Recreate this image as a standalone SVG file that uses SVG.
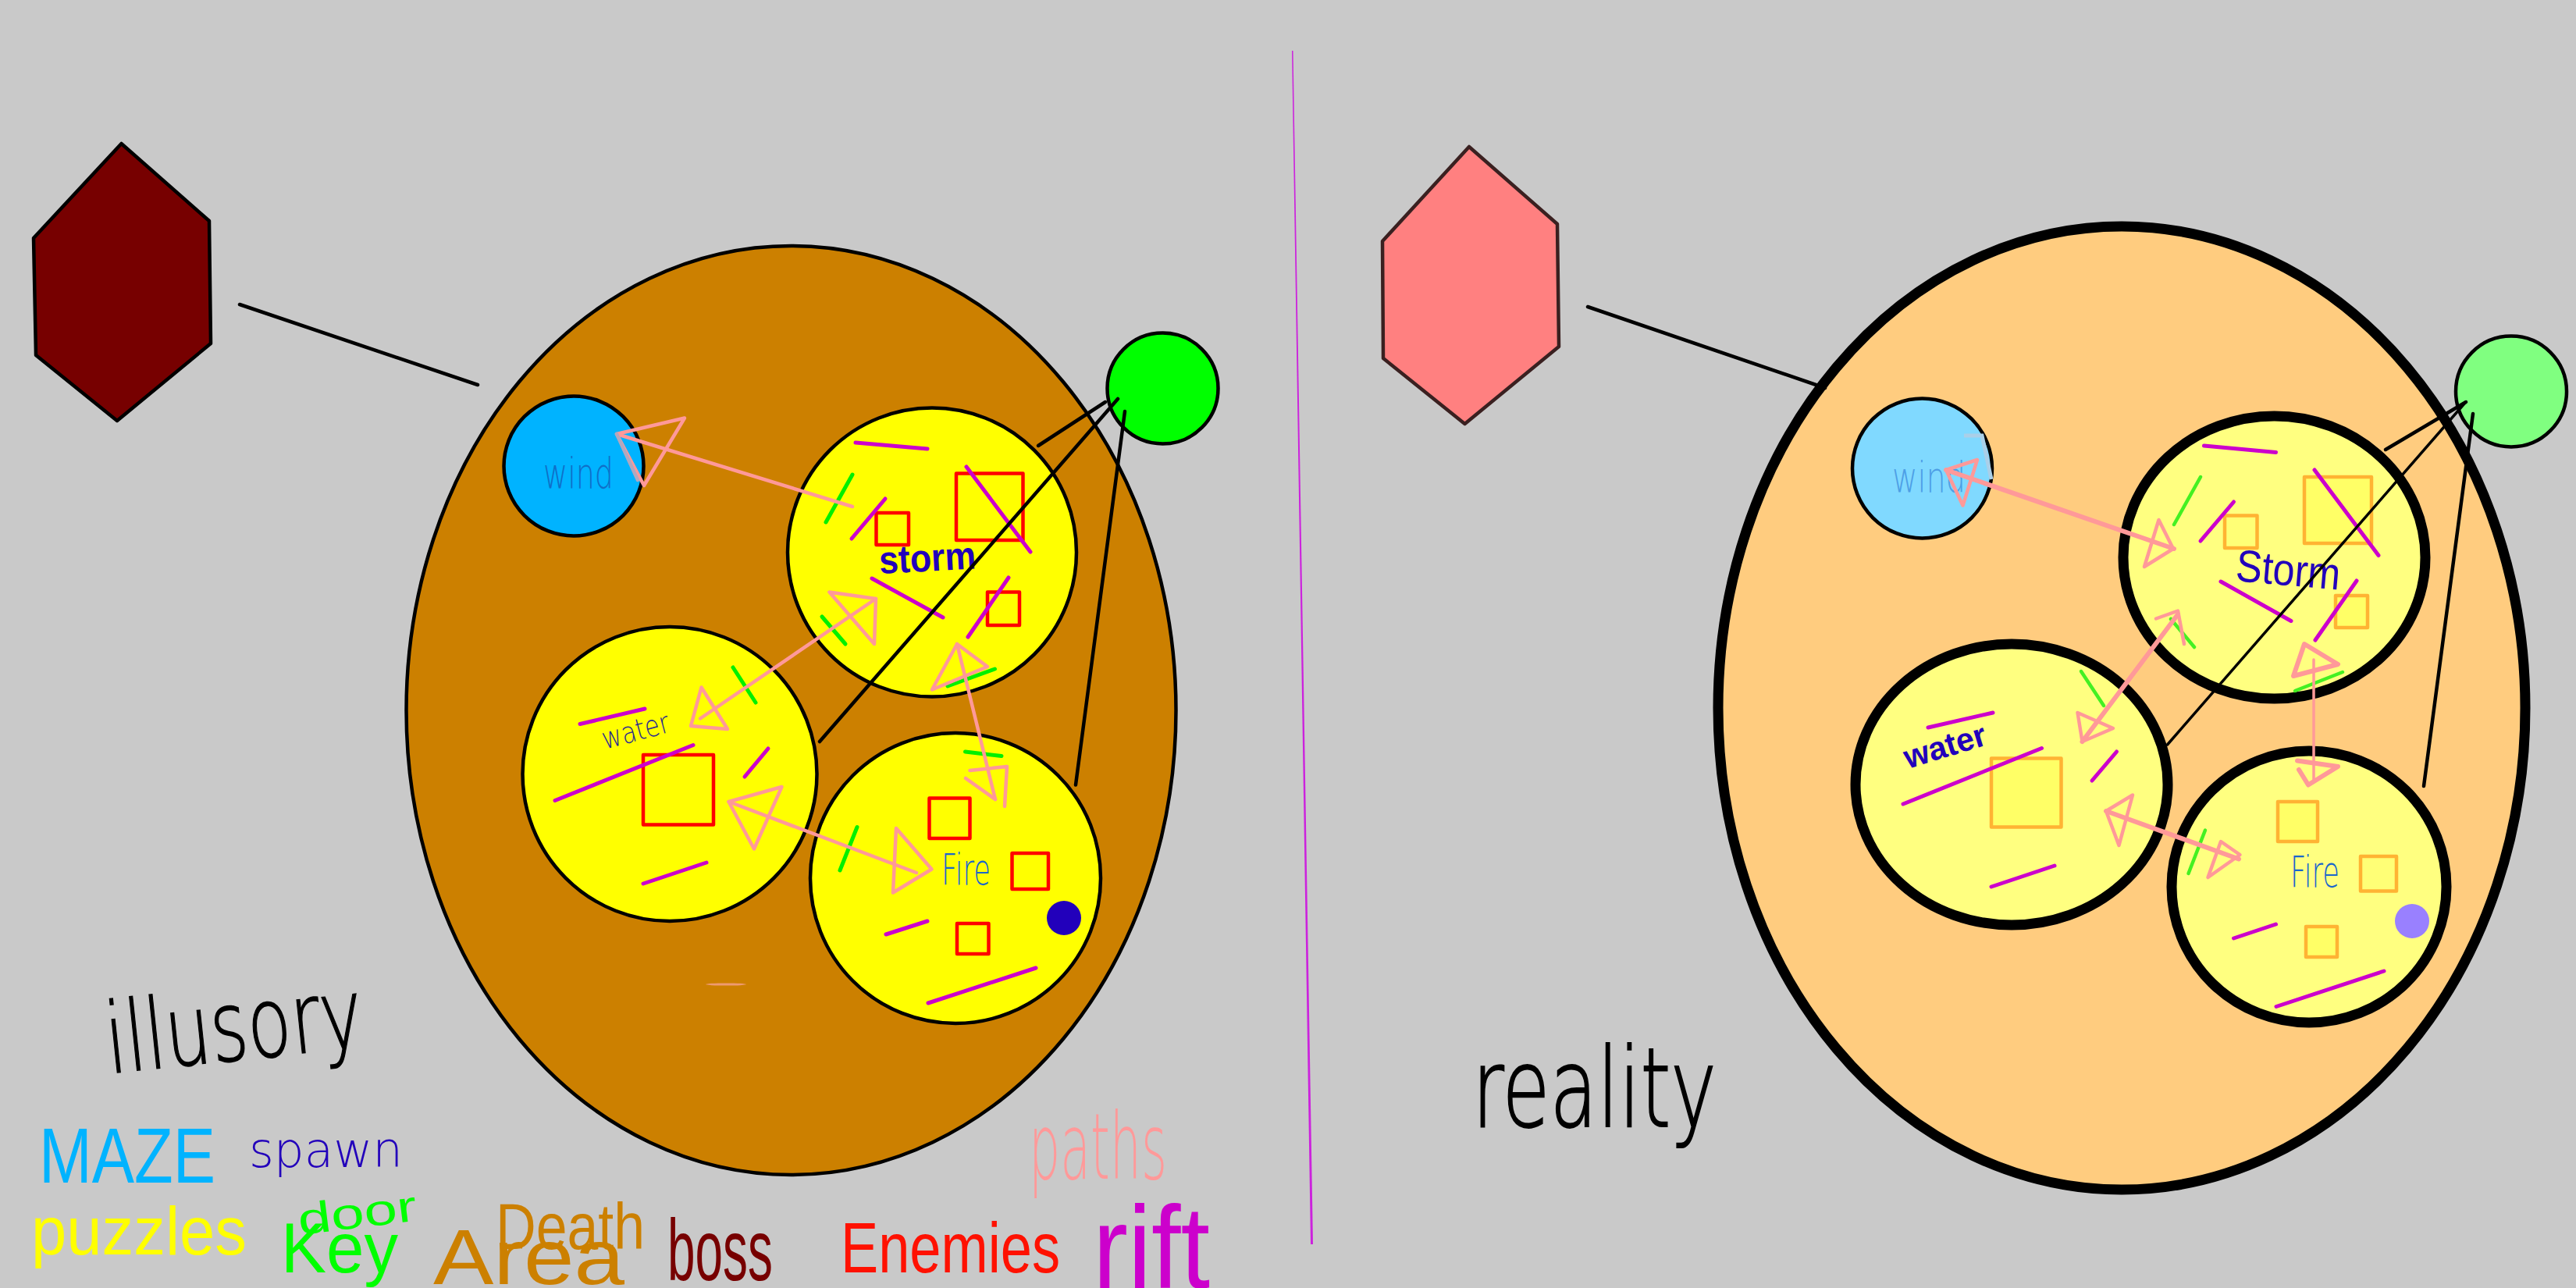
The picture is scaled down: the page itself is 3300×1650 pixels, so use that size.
<svg xmlns="http://www.w3.org/2000/svg" width="3300" height="1650" viewBox="0 0 3300 1650">
<style>
.o{stroke:#000;stroke-width:4.5}
.r{stroke:#000;stroke-width:13}
.hex{stroke-width:4.5;stroke-linejoin:round}
.blk{stroke:#000;stroke-width:4.5;stroke-linecap:round;fill:none}
.mag{stroke:#cc00cc;stroke-width:5;stroke-linecap:round;fill:none}
.grn{stroke:#00f000;stroke-width:5;stroke-linecap:round;fill:none}
.grn2{stroke:#44f022;stroke-width:4.5;stroke-linecap:round;fill:none}
.red{stroke:#ff0000;stroke-width:4.5;stroke-linejoin:round;fill:none}
.org{stroke:#ffb333;stroke-width:4.5;stroke-linejoin:round;fill:#ffff66}
.pink{stroke:#ff9999;stroke-width:4.5;stroke-linecap:round;stroke-linejoin:round;fill:none}
.pink2{stroke:#ff9999;stroke-width:6;stroke-linecap:round;stroke-linejoin:round;fill:none}
text{font-family:"DejaVu Sans","Liberation Sans",sans-serif}
.thin{font-weight:200}
.hv{font-family:"Liberation Sans",sans-serif}
</style>
<rect id="background" width="3300" height="1650" fill="#c9c9c9"/>
<polygon id="divider" points="1655,65 1656.5,65 1682,1594 1679,1594" fill="#cc22dd"/>

<!-- left: illusory -->
<g id="illusory-hex"><polygon class="hex" points="155.5,184 268,283 270,440 150,539 46,455 43,305" fill="#770000" stroke="#000"/></g>
<g id="illusory-maze"><ellipse cx="1013.5" cy="910" rx="493" ry="595" fill="#cc8000" class="o"/><ellipse cx="930" cy="1261" rx="26" ry="1.6" fill="#ee9a70"/></g>
<g id="illusory-door"><circle cx="1489.5" cy="497.5" r="71" fill="#00ff00" class="o"/></g>
<g id="illusory-wind"><circle cx="735" cy="597" r="89.5" fill="#00b3ff" class="o"/>
<text class="thin" x="696" y="625" font-size="54" fill="#0f6fc8" textLength="90" lengthAdjust="spacingAndGlyphs">wind</text></g>
<g id="illusory-storm"><circle cx="1194" cy="707.5" r="185" fill="#ffff00" class="o"/>
<rect class="red" x="1225" y="606.5" width="85.5" height="85.5"/><rect class="red" x="1122.5" y="657" width="41.5" height="41"/><rect class="red" x="1265" y="758.5" width="41" height="42.5"/>
<line class="mag" x1="1096" y1="567" x2="1188" y2="575"/><line class="mag" x1="1091" y1="690" x2="1134" y2="639"/><line class="mag" x1="1238" y1="598" x2="1320" y2="707"/><line class="mag" x1="1117" y1="741" x2="1208" y2="791"/><line class="mag" x1="1240" y1="816" x2="1292" y2="740"/>
<text class="hv" transform="translate(1127 735) rotate(-3)" font-size="50" font-weight="700" fill="#2200bb" textLength="124" lengthAdjust="spacingAndGlyphs">storm</text></g>
<g id="illusory-water"><circle cx="858" cy="991.5" r="188.5" fill="#ffff00" class="o"/>
<rect class="red" x="824" y="967" width="90" height="89.5"/>
<line class="mag" x1="743" y1="927.5" x2="826" y2="908"/><line class="mag" x1="711" y1="1025.5" x2="888" y2="954.5"/><line class="mag" x1="954" y1="995" x2="984" y2="959"/><line class="mag" x1="824" y1="1132" x2="905" y2="1105"/>
<text class="thin" transform="translate(775 960) rotate(-15)" font-size="38" fill="#2a2a90" textLength="88" lengthAdjust="spacingAndGlyphs">water</text></g>
<g id="illusory-fire"><circle cx="1224" cy="1125" r="186" fill="#ffff00" class="o"/>
<rect class="red" x="1190.5" y="1022.5" width="52" height="51.5"/><rect class="red" x="1296.5" y="1093" width="46.5" height="46"/><rect class="red" x="1226" y="1183" width="40.5" height="39"/>
<line class="mag" x1="1135" y1="1197" x2="1188" y2="1180"/><line class="mag" x1="1189" y1="1285" x2="1327" y2="1240"/>
<circle cx="1363" cy="1176" r="22" fill="#2200bb"/>
<text class="thin" x="1206" y="1133" font-size="56" fill="#1a66cc" textLength="63" lengthAdjust="spacingAndGlyphs">Fire</text></g>

<!-- right: reality -->
<g id="reality-hex"><polygon class="hex" points="1882,188 1995,287 1997,444 1876.5,543 1772,459 1771,309" fill="#ff8080" stroke="#3a2020"/></g>
<g id="reality-maze"><ellipse cx="2718" cy="907" rx="517" ry="617" fill="#ffcc7f" class="r"/></g>
<g id="reality-door"><circle cx="3217" cy="501.5" r="71" fill="#80ff80" class="o"/></g>
<g id="reality-wind"><circle cx="2462.5" cy="600" r="89.5" fill="#80d9ff" class="o"/>
<text class="thin" x="2424" y="630" font-size="54" fill="#4d9fe6" textLength="94" lengthAdjust="spacingAndGlyphs">wind</text>
<polyline points="2516,558 2539,558 2551,614" fill="none" stroke="#aacfe8" stroke-width="5"/></g>
<g id="reality-storm"><ellipse cx="2913.5" cy="714" rx="193.5" ry="181" fill="#ffff80" class="r"/>
<rect class="org" x="2952" y="611" width="86" height="85"/><rect class="org" x="2850" y="660.5" width="41.5" height="41.5" fill-opacity="0.4"/><rect class="org" x="2992" y="763" width="41" height="41"/>
<line class="mag" x1="2823.5" y1="571" x2="2915.5" y2="579.5"/><line class="mag" x1="2819" y1="693" x2="2861.5" y2="643"/><line class="mag" x1="2965" y1="602" x2="3047" y2="711.5"/><line class="mag" x1="2845" y1="745" x2="2935" y2="795.5"/><line class="mag" x1="2966" y1="820" x2="3019" y2="744"/>
<text transform="translate(2863 744) rotate(5)" class="hv" font-size="58" fill="#2200bb" textLength="134" lengthAdjust="spacingAndGlyphs">Storm</text></g>
<g id="reality-water"><ellipse cx="2577" cy="1005" rx="200" ry="180" fill="#ffff80" class="r"/>
<rect class="org" x="2551" y="971.5" width="89.5" height="88"/>
<line class="mag" x1="2470" y1="932" x2="2553" y2="913"/><line class="mag" x1="2438" y1="1030" x2="2615.5" y2="958.5"/><line class="mag" x1="2680" y1="1000" x2="2711.5" y2="963"/><line class="mag" x1="2551" y1="1136" x2="2632" y2="1109"/>
<text class="hv" transform="translate(2444 985) rotate(-17)" font-size="42" font-weight="700" fill="#2200bb" textLength="108" lengthAdjust="spacingAndGlyphs">water</text></g>
<g id="reality-fire"><ellipse cx="2958" cy="1136" rx="176" ry="174" fill="#ffff80" class="r"/>
<rect class="org" x="2918" y="1027" width="51" height="51"/><rect class="org" x="3024" y="1097" width="46" height="44.5" fill-opacity="0.4"/><rect class="org" x="2954" y="1187" width="40" height="39"/>
<line class="mag" x1="2861.5" y1="1202" x2="2915.5" y2="1184"/><line class="mag" x1="2916" y1="1289.5" x2="3054" y2="1244"/>
<circle cx="3090" cy="1180" r="22" fill="#9980ff"/>
<text class="thin" x="2934" y="1136" font-size="56" fill="#1a66cc" textLength="63" lengthAdjust="spacingAndGlyphs">Fire</text></g>

<g id="connectors">
<!-- left door lines -->
<line class="grn" x1="1058" y1="669" x2="1092" y2="608"/><line class="grn" x1="1053" y1="790" x2="1083" y2="825"/><line class="grn" x1="1214" y1="879" x2="1274.5" y2="857"/><line class="grn" x1="939" y1="855" x2="968" y2="900"/><line class="grn" x1="1236.5" y1="963" x2="1283" y2="968.5"/><line class="grn" x1="1076" y1="1115" x2="1098" y2="1059.5"/>
<line class="blk" x1="307" y1="390" x2="612" y2="493"/>
<line class="blk" x1="1330" y1="571" x2="1416" y2="515"/><line class="blk" x1="1050" y1="950" x2="1432" y2="511"/><line class="blk" x1="1378" y1="1005.5" x2="1441" y2="527"/>
<!-- left paths -->
<line class="pink" x1="1092" y1="649" x2="790" y2="556"/><polygon class="pink" points="790,556 877,535.5 825,622"/><line x1="790" y1="556" x2="817" y2="615" stroke="#b0a8c0" stroke-width="4.5" stroke-linecap="round"/>
<line class="pink" x1="897" y1="920.5" x2="1122" y2="767"/><polygon class="pink" points="898.5,880.5 932,934 885,930"/><polygon class="pink" points="1062.5,758.5 1122,767 1120,825"/>
<line class="pink" x1="1226" y1="825" x2="1275" y2="1024"/><polygon class="pink" points="1226,825 1265,854 1194,883.5"/><polyline class="pink" points="1242.5,987 1290,982 1287,1033"/><line class="pink" x1="1237" y1="997" x2="1275" y2="1024"/>
<line class="pink" x1="933.5" y1="1027" x2="1174" y2="1118"/><polygon class="pink" points="933.5,1027 1001.5,1008 966,1087.5"/><polygon class="pink" points="1148,1061 1193.5,1113.5 1144,1143.5"/>
<!-- right door lines -->
<line class="grn2" x1="2785" y1="672" x2="2819" y2="611"/><line class="grn2" x1="2781" y1="793" x2="2811" y2="829"/><line class="grn2" x1="2940" y1="885" x2="3001" y2="861"/><line class="grn2" x1="2666" y1="860" x2="2695" y2="904"/><line class="grn2" x1="2803.5" y1="1119" x2="2825" y2="1063.5"/>
<line class="blk" x1="2034" y1="393" x2="2338" y2="497"/>
<line class="blk" x1="3056" y1="576" x2="3159" y2="515"/><line class="blk" x1="2776.5" y1="954" x2="3157" y2="517" style="stroke-width:3.5"/><line class="blk" x1="3105" y1="1007" x2="3168" y2="530"/>
<!-- right paths -->
<line class="pink2" x1="2493" y1="602" x2="2785" y2="703"/><polygon class="pink" points="2493,602 2533,589 2514.5,647.5"/><polygon class="pink" points="2765.5,666 2784,703 2747,726"/>
<line class="pink2" x1="2790" y1="787" x2="2667.5" y2="950"/><polyline class="pink" points="2762,792.5 2790,782.5 2798,825"/><polygon class="pink" points="2661.5,913 2667.5,950 2707,933"/>
<line class="pink" x1="2964" y1="845" x2="2964" y2="1001" style="stroke-width:3.5"/><polygon class="pink2" points="2952,825 2995,851 2938,866"/><polyline class="pink2" points="2943,974.5 2995,982 2957,1005.5 2945,986"/>
<line class="pink2" x1="2698" y1="1039" x2="2868" y2="1100.5"/><polygon class="pink" points="2698,1039 2732,1018.5 2714.5,1083"/><polygon class="pink" points="2845,1078 2869.5,1095 2828.5,1124"/>
</g>

<g id="labels">
<text class="thin" transform="translate(140 1375) rotate(-6)" font-size="125" fill="#000" stroke="#000" stroke-width="1.5" textLength="330" lengthAdjust="spacingAndGlyphs">illusory</text>
<text class="hv" x="50" y="1515" font-size="100" fill="#00b3ff" textLength="226" lengthAdjust="spacingAndGlyphs">MAZE</text>
<text class="thin" x="319" y="1495" font-size="62" fill="#2200bb" textLength="197" lengthAdjust="spacingAndGlyphs">spawn</text>
<text class="hv" x="40" y="1607" font-size="88" fill="#ffff00" textLength="276" lengthAdjust="spacingAndGlyphs">puzzles</text>
<text class="hv" transform="translate(384 1582) rotate(-7)" font-size="56" fill="#00ff00" textLength="153" lengthAdjust="spacingAndGlyphs">door</text>
<text class="hv" x="360" y="1630" font-size="90" fill="#00ff00" textLength="150" lengthAdjust="spacingAndGlyphs">Key</text>
<text class="hv" x="635" y="1600" font-size="84" fill="#cc8000" textLength="191" lengthAdjust="spacingAndGlyphs">Death</text>
<text class="hv" x="555" y="1645" font-size="100" fill="#cc8000" textLength="245" lengthAdjust="spacingAndGlyphs">Area</text>
<text class="hv" x="855" y="1640" font-size="112" fill="#770000" textLength="135" lengthAdjust="spacingAndGlyphs">boss</text>
<text class="hv" x="1077" y="1630" font-size="90" fill="#ff1100" textLength="281" lengthAdjust="spacingAndGlyphs">Enemies</text>
<text class="thin" x="1318" y="1510" font-size="118" fill="#ff9999" textLength="177" lengthAdjust="spacingAndGlyphs">paths</text>
<text class="hv" x="1400" y="1650" font-size="150" fill="#cc00cc" textLength="150" lengthAdjust="spacingAndGlyphs">rift</text>
<text class="thin" x="1886" y="1443" font-size="140" fill="#000" stroke="#000" stroke-width="2" textLength="313" lengthAdjust="spacingAndGlyphs">reality</text>
</g>
</svg>
